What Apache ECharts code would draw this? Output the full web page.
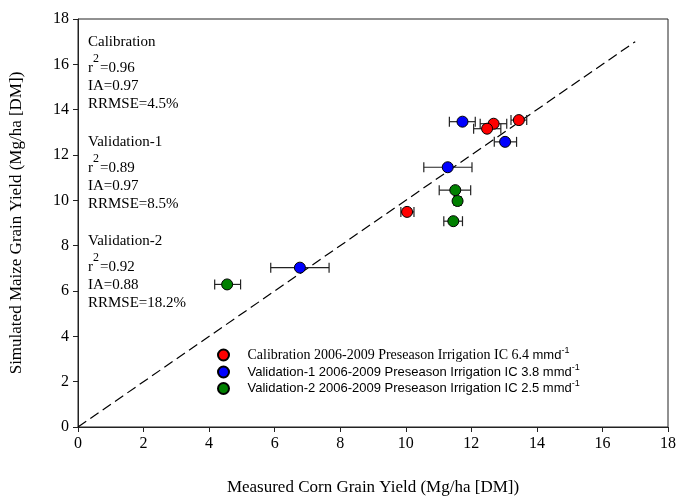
<!DOCTYPE html>
<html>
<head>
<meta charset="utf-8">
<script src="https://cdn.jsdelivr.net/npm/echarts@6/dist/echarts.min.js"></script>
<style>html,body{margin:0;padding:0;background:#fff}#c{width:679px;height:501px}</style>
</head>
<body>
<div id="c"></div>
<script>
// ---- data ----
var seriesNames = [
  'Calibration 2006-2009 Preseason Irrigation IC 6.4 mmd-1',
  'Validation-1 2006-2009 Preseason Irrigation IC 3.8 mmd-1',
  'Validation-2 2006-2009 Preseason Irrigation IC 2.5 mmd-1'
];
var calX   = [12.68, 12.48, 13.45, 10.04];
var calY   = [13.38, 13.16, 13.54, 9.49];
var calLo  = [12.27, 12.07, 13.21, 9.85];
var calHi  = [13.08, 12.90, 13.69, 10.25];

var v1X    = [11.73, 13.03, 11.28, 6.77];
var v1Y    = [13.47, 12.58, 11.46, 7.03];
var v1Lo   = [11.33, 12.70, 10.55, 5.88];
var v1Hi   = [12.12, 13.38, 12.02, 7.66];

var v2X    = [11.51, 11.58, 11.45, 4.55];
var v2Y    = [10.45, 9.97, 9.08, 6.29];
var v2Lo   = [11.02, 11.47, 11.16, 4.17];
var v2Hi   = [11.98, 11.69, 11.73, 4.96];

var oneToOne = [[0, 0], [17, 17]];
var xTicks = [0, 2, 4, 6, 8, 10, 12, 14, 16, 18];
var yTicks = [0, 2, 4, 6, 8, 10, 12, 14, 16, 18];

var stats = [
  {title: 'Calibration', r2: '=0.96', ia: 'IA=0.97', rr: 'RRMSE=4.5%'},
  {title: 'Validation-1', r2: '=0.89', ia: 'IA=0.97', rr: 'RRMSE=8.5%'},
  {title: 'Validation-2', r2: '=0.92', ia: 'IA=0.88', rr: 'RRMSE=18.2%'}
];

// ---- build ----
var serif = 'Liberation Serif, Times New Roman, serif';
var sans = 'Liberation Sans, Arial, sans-serif';
var colors = ['#ff0000', '#0000ff', '#008000'];

function zip(a, b) { return a.map(function (v, i) { return [v, b[i]]; }); }
function errData(lo, hi, y) { return lo.map(function (v, i) { return [v, hi[i], y[i]]; }); }

function errSeries(lo, hi, y) {
  return {
    type: 'custom', silent: true, z: 1,
    renderItem: function (params, api) {
      var a = api.coord([api.value(0), api.value(2)]);
      var b = api.coord([api.value(1), api.value(2)]);
      var h = 5;
      var st = {stroke: '#222', lineWidth: 1.2};
      return {type: 'group', children: [
        {type: 'line', shape: {x1: a[0], y1: a[1], x2: b[0], y2: b[1]}, style: st},
        {type: 'line', shape: {x1: a[0], y1: a[1] - h, x2: a[0], y2: a[1] + h}, style: st},
        {type: 'line', shape: {x1: b[0], y1: b[1] - h, x2: b[0], y2: b[1] + h}, style: st}
      ]};
    },
    encode: {x: [0, 1], y: 2},
    data: errData(lo, hi, y)
  };
}

function scatter(name, xs, ys, color) {
  return {
    name: name, type: 'scatter', z: 3, symbol: 'circle', symbolSize: 11,
    itemStyle: {color: color, borderColor: '#000', borderWidth: 1, opacity: 1},
    data: zip(xs, ys)
  };
}

var graphics = [];
var blockTop = [41, 141, 240];
stats.forEach(function (s, k) {
  var t = blockTop[k];
  var f = {fontFamily: serif, fontSize: 15, fill: '#000'};
  graphics.push({type: 'text', left: 88, top: t - 6, style: Object.assign({text: s.title}, f)});
  graphics.push({type: 'text', left: 88, top: t + 20, style: Object.assign({text: 'r'}, f)});
  graphics.push({type: 'text', left: 93, top: t + 12, style: Object.assign({}, f, {text: '2', fontSize: 12})});
  graphics.push({type: 'text', left: 100, top: t + 20, style: Object.assign({text: s.r2}, f)});
  graphics.push({type: 'text', left: 88, top: t + 38, style: Object.assign({text: s.ia}, f)});
  graphics.push({type: 'text', left: 88, top: t + 56, style: Object.assign({text: s.rr}, f)});
});

var chart = echarts.init(document.getElementById('c'), null, {renderer: 'canvas'});
chart.setOption({
  animation: false,
  backgroundColor: '#fff',
  grid: {left: 75, right: 10, top: 19, bottom: 68, show: true, borderColor: '#222', borderWidth: 1},
  xAxis: {
    type: 'value', min: xTicks[0], max: xTicks[xTicks.length - 1], interval: 2,
    name: 'Measured Corn Grain Yield (Mg/ha [DM])', nameLocation: 'middle', nameGap: 52,
    nameTextStyle: {fontFamily: serif, fontSize: 17, color: '#000'},
    axisLine: {onZero: false, lineStyle: {color: '#222', width: 1}},
    axisTick: {inside: false, length: 5, lineStyle: {color: '#222'}},
    axisLabel: {fontFamily: serif, fontSize: 16, color: '#000', margin: 9},
    splitLine: {show: false}
  },
  yAxis: {
    type: 'value', min: yTicks[0], max: yTicks[yTicks.length - 1], interval: 2,
    name: 'Simulated Maize Grain Yield (Mg/ha [DM])', nameLocation: 'middle', nameGap: 53,
    nameTextStyle: {fontFamily: serif, fontSize: 17, color: '#000'},
    axisLine: {onZero: false, lineStyle: {color: '#222', width: 1}},
    axisTick: {inside: false, length: 5, lineStyle: {color: '#222'}},
    axisLabel: {fontFamily: serif, fontSize: 16, color: '#000', margin: 9},
    splitLine: {show: false}
  },
  legend: {
    data: seriesNames, orient: 'vertical', left: 212, top: 341,
    itemWidth: 38, itemHeight: 11, itemGap: 1, icon: 'circle',
    formatter: function (n) {
      var i = seriesNames.indexOf(n);
      var base = n.replace(' mmd-1', ' ');
      if (i === 0) return '{ser|' + base + '}{sans|mmd}{sup|-1}';
      return '{sans|' + base + 'mmd}{sup|-1}';
    },
    textStyle: {
      color: '#000',
      rich: {
        ser: {fontFamily: serif, fontSize: 14, lineHeight: 18, color: '#000'},
        sans: {fontFamily: sans, fontSize: 13, lineHeight: 18, color: '#000'},
        sup: {fontFamily: sans, fontSize: 9, verticalAlign: 'top', color: '#000'}
      }
    }
  },
  graphic: graphics,
  series: [
    {type: 'line', silent: true, z: 0, symbol: 'none', data: oneToOne,
     lineStyle: {color: '#000', width: 1.2, type: [10, 5]}},
    errSeries(calLo, calHi, calY),
    errSeries(v1Lo, v1Hi, v1Y),
    errSeries(v2Lo, v2Hi, v2Y),
    scatter(seriesNames[0], calX, calY, colors[0]),
    scatter(seriesNames[1], v1X, v1Y, colors[1]),
    scatter(seriesNames[2], v2X, v2Y, colors[2])
  ]
});
</script>
</body>
</html>
